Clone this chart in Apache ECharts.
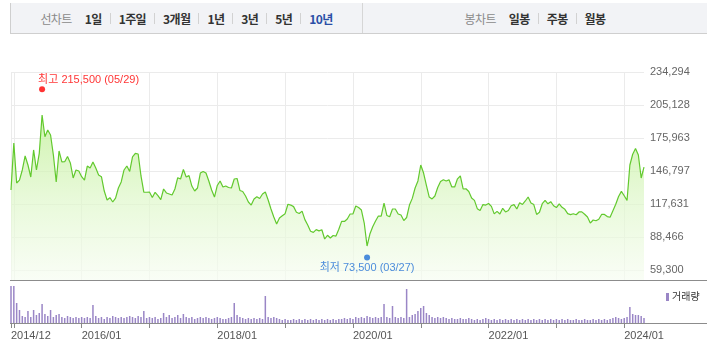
<!DOCTYPE html>
<html>
<head>
<meta charset="utf-8">
<script src="https://cdn.jsdelivr.net/npm/echarts@6/dist/echarts.min.js"></script>
<style>
  html, body { margin: 0; padding: 0; background: #fff; }
  #wrap { position: relative; width: 707px; height: 354px; overflow: hidden; }
  #chart { position: absolute; left: 0; top: 0; width: 707px; height: 354px; }
  #tabs {
    position: absolute; left: 10px; top: 3px; width: 697px; height: 31px;
    background: #f2f3f6; border-left: 1px solid #cfcfcf; border-bottom: 1px solid #cfcfcf;
    box-sizing: border-box; display: flex; z-index: 2;
    font-family: "Noto Sans CJK KR", sans-serif; font-size: 12px; letter-spacing: -0.6px;
  }
  .sec { display: flex; align-items: center; justify-content: center; height: 100%; }
  .sec.l { width: 351px; border-right: 1px solid #d6d6d6; }
  .sec.r { flex: 1; }
  .ttl { color: #8a8a8a; margin-right: 13px; }
  .it { color: #333; font-weight: bold; }
  .it.on { color: #2a4fa6; }
  .sep { display: inline-block; width: 1px; height: 11px; background: #d2d2d2; margin: 0 8px; }
</style>
</head>
<body>
<div id="wrap">
  <div id="chart"></div>
  <div id="tabs">
    <div class="sec l">
      <span class="ttl">선차트</span>
      <span class="it">1일</span><i class="sep"></i>
      <span class="it">1주일</span><i class="sep"></i>
      <span class="it">3개월</span><i class="sep"></i>
      <span class="it">1년</span><i class="sep"></i>
      <span class="it">3년</span><i class="sep"></i>
      <span class="it">5년</span><i class="sep"></i>
      <span class="it on">10년</span>
    </div>
    <div class="sec r">
      <span class="ttl">봉차트</span>
      <span class="it">일봉</span><i class="sep"></i>
      <span class="it">주봉</span><i class="sep"></i>
      <span class="it">월봉</span>
    </div>
  </div>
</div>
<script>
// half-month dates, 2014/12/15 .. 2024/04/15
const dates = [];
for (let y = 2014; y <= 2024; y++) {
  for (let m = 1; m <= 12; m++) {
    for (const d of [1, 15]) {
      const s = y + '/' + String(m).padStart(2, '0') + '/' + String(d).padStart(2, '0');
      if (s >= '2014/12/15' && s <= '2024/04/15') dates.push(s);
    }
  }
}

const prices = [
  130000, 171500, 136200, 138800, 147700, 160100, 152100, 141500, 165400, 147700,
  162400, 196300, 177100, 183000, 178600, 160900, 137100, 164500, 154800, 155000,
  159600, 153900, 140600, 147700, 146800, 141800, 138800, 151200, 149400, 154800,
  149400, 143300, 141800, 129100, 121200, 123200, 119400, 122900, 131800, 137100,
  147700, 151200, 146400, 159200, 162300, 161800, 142400, 128200, 128000, 128200,
  123400, 128000, 125100, 121500, 130900, 127400, 126500, 125600, 130900, 140900,
  139700, 148100, 141500, 142700, 133500, 129100, 131800, 145000, 146400, 145000,
  138000, 130000, 123800, 134000, 138000, 132700, 133500, 132200, 131800, 139700,
  140200, 129600, 128700, 124700, 119400, 116700, 122100, 124000, 122500, 126500,
  128200, 121200, 113200, 106100, 100000, 105300, 107300, 109100, 117400, 116700,
  115300, 110300, 109200, 111300, 103800, 99100, 93500, 92600, 95000, 93900,
  94900, 86700, 90000, 87600, 89800, 89300, 95300, 102300, 102200, 104400,
  108800, 108800, 115900, 114500, 112300, 100800, 80500, 91100, 97600, 102600,
  107000, 107000, 118500, 107500, 106400, 113200, 113200, 108800, 107900, 103000,
  105700, 116700, 122600, 131800, 138000, 152100, 145000, 134000, 123800, 122100,
  124700, 132200, 137500, 139100, 138000, 139000, 132700, 132700, 139900, 142400,
  130900, 131100, 128700, 122900, 120800, 113500, 111900, 117100, 116700, 118100,
  115500, 108900, 111100, 108800, 113800, 110600, 111900, 116100, 117100, 113200,
  118800, 117200, 120300, 123800, 118500, 117100, 108400, 110300, 117900, 120800,
  117800, 119700, 116100, 114500, 117800, 114700, 112900, 109100, 108300, 109000,
  108100, 110600, 110700, 108600, 106100, 100800, 103500, 102800, 104100, 108400,
  108400, 106500, 105900, 111600, 117400, 124200, 128800, 124900, 120800, 152100,
  161600, 166700, 160900, 140600, 150300
];

const volumes = [
  1850, 1850, 1000, 650, 350, 300, 600, 300, 650, 400,
  500, 950, 450, 350, 650, 300, 400, 450, 300, 250,
  350, 300, 250, 300, 250, 300, 250, 300, 250, 900,
  350, 250, 300, 200, 300, 250, 350, 300, 250, 300,
  250, 300, 350, 300, 250, 350, 300, 600, 250, 300,
  250, 300, 200, 250, 500, 300, 400, 250, 300, 400,
  250, 450, 300, 250, 300, 200, 250, 300, 250, 300,
  250, 200, 250, 300, 250, 200, 200, 250, 300, 1000,
  400, 300, 250, 200, 250, 200, 250, 200, 250, 200,
  1350, 300, 250, 300, 250, 200, 150, 200, 150, 150,
  200, 150, 200, 150, 200, 150, 200, 150, 200, 150,
  200, 150, 200, 150, 200, 150, 200, 200, 250, 200,
  250, 200, 300, 250, 300, 250, 350, 300, 250, 300,
  250, 300, 950, 300, 250, 850, 300, 250, 300, 250,
  1700, 300, 400, 450, 600, 750, 850, 500, 400, 300,
  250, 300, 250, 300, 250, 200, 250, 200, 200, 250,
  200, 200, 250, 200, 150, 200, 150, 200, 250, 200,
  150, 200, 150, 200, 150, 200, 150, 200, 150, 200,
  150, 200, 150, 200, 150, 200, 150, 200, 150, 200,
  150, 200, 150, 200, 150, 200, 150, 200, 150, 150,
  200, 150, 150, 200, 150, 150, 200, 150, 200, 150,
  200, 150, 200, 250, 300, 250, 200, 250, 300, 800,
  450, 400, 400, 350, 250
];

const yTicks = [59300, 88466, 117631, 146797, 175963, 205128, 234294];

const highPoint = { date: '2015/06/01', value: 215500, text: '최고 215,500 (05/29)' };
const lowPoint = { date: '2020/03/15', value: 73500, text: '최저 73,500 (03/27)' };

const isTick = (i, v) => i === 0 || v.endsWith('/01/01');
const isLabel = (i, v) => i === 0 || (v.endsWith('/01/01') && Number(v.slice(0, 4)) % 2 === 0);

const numFont = '"Liberation Sans", "Noto Sans CJK KR", sans-serif';

const chart = echarts.init(document.getElementById('chart'), null, { renderer: 'canvas' });

chart.setOption({
  animation: false,
  backgroundColor: '#fff',
  legend: {
    data: ['거래량'],
    left: 661, top: 287,
    icon: 'rect', itemWidth: 3, itemHeight: 8, itemGap: 0,
    textStyle: { fontSize: 10, color: '#333', fontFamily: numFont, padding: [0, 0, 0, -2] },
    selectedMode: false
  },
  grid: [
    { left: 11, right: 63, top: 72, height: 208 },
    { left: 11, right: 63, top: 286, bottom: 31 }
  ],
  xAxis: [
    {
      type: 'category', gridIndex: 0, data: dates, boundaryGap: false,
      axisLine: { show: false }, axisTick: { show: false }, axisLabel: { show: false },
      splitLine: { show: true, interval: isTick, lineStyle: { color: '#ebebeb', width: 1 } }
    },
    {
      type: 'category', gridIndex: 1, data: dates, boundaryGap: false,
      axisLine: { show: false },
      axisTick: { show: true, interval: isTick, length: 5, lineStyle: { color: '#888' } },
      axisLabel: {
        interval: isLabel, align: 'left', margin: 7,
        color: '#555', fontSize: 11, fontFamily: numFont,
        formatter: v => v.slice(0, 7)
      },
      splitLine: { show: false }
    }
  ],
  yAxis: [
    {
      type: 'value', gridIndex: 0, position: 'right',
      min: 50462, max: 234294,
      axisLine: { show: false },
      axisTick: { show: false, customValues: yTicks },
      axisLabel: {
        customValues: yTicks, margin: 6,
        color: '#666', fontSize: 11, fontFamily: numFont,
        formatter: v => Math.round(v).toLocaleString('en-US')
      },
      splitLine: { show: true, lineStyle: { color: '#ebebeb', width: 1 } }
    },
    {
      type: 'value', gridIndex: 1, min: 0, max: 'dataMax',
      axisLine: { show: false }, axisTick: { show: false }, axisLabel: { show: false },
      splitLine: { show: false }
    }
  ],
  graphic: [
    { type: 'rect', silent: true, shape: { x: 10, y: 280, width: 697, height: 1 }, style: { fill: '#8c8c8c' } },
    { type: 'rect', silent: true, shape: { x: 10, y: 323, width: 697, height: 1 }, style: { fill: '#8c8c8c' } }
  ],
  series: [
    {
      name: '주가', type: 'line', xAxisIndex: 0, yAxisIndex: 0,
      data: prices, showSymbol: false, silent: true,
      lineStyle: { color: '#62c92e', width: 1.2 },
      areaStyle: {
        color: new echarts.graphic.LinearGradient(0, 0, 0, 1, [
          { offset: 0, color: '#bcee8e' },
          { offset: 0.5, color: '#def7c9' },
          { offset: 1, color: '#f7fdf2' }
        ])
      },
      z: 2
    },
    {
      name: 'hilo', type: 'scatter', xAxisIndex: 0, yAxisIndex: 0, silent: true,
      symbolSize: 6, z: 5,
      data: [
        {
          value: [highPoint.date, highPoint.value], symbolOffset: [0, -4],
          itemStyle: { color: '#ff0000' },
          label: {
            show: true, position: 'top', align: 'left', distance: 1, offset: [-4, 0],
            formatter: highPoint.text, color: '#ff0000', fontSize: 11, fontFamily: numFont
          }
        },
        {
          value: [lowPoint.date, lowPoint.value], symbolOffset: [0, 3.5],
          itemStyle: { color: '#1f6fd6' },
          label: {
            show: true, position: 'bottom', distance: 2,
            formatter: lowPoint.text, color: '#1f6fd6', fontSize: 11, fontFamily: numFont
          }
        }
      ]
    },
    {
      name: '거래량', type: 'bar', xAxisIndex: 1, yAxisIndex: 1,
      data: volumes, barWidth: 1.5, silent: true,
      itemStyle: { color: '#9a86c6' }
    }
  ]
});
</script>
</body>
</html>
